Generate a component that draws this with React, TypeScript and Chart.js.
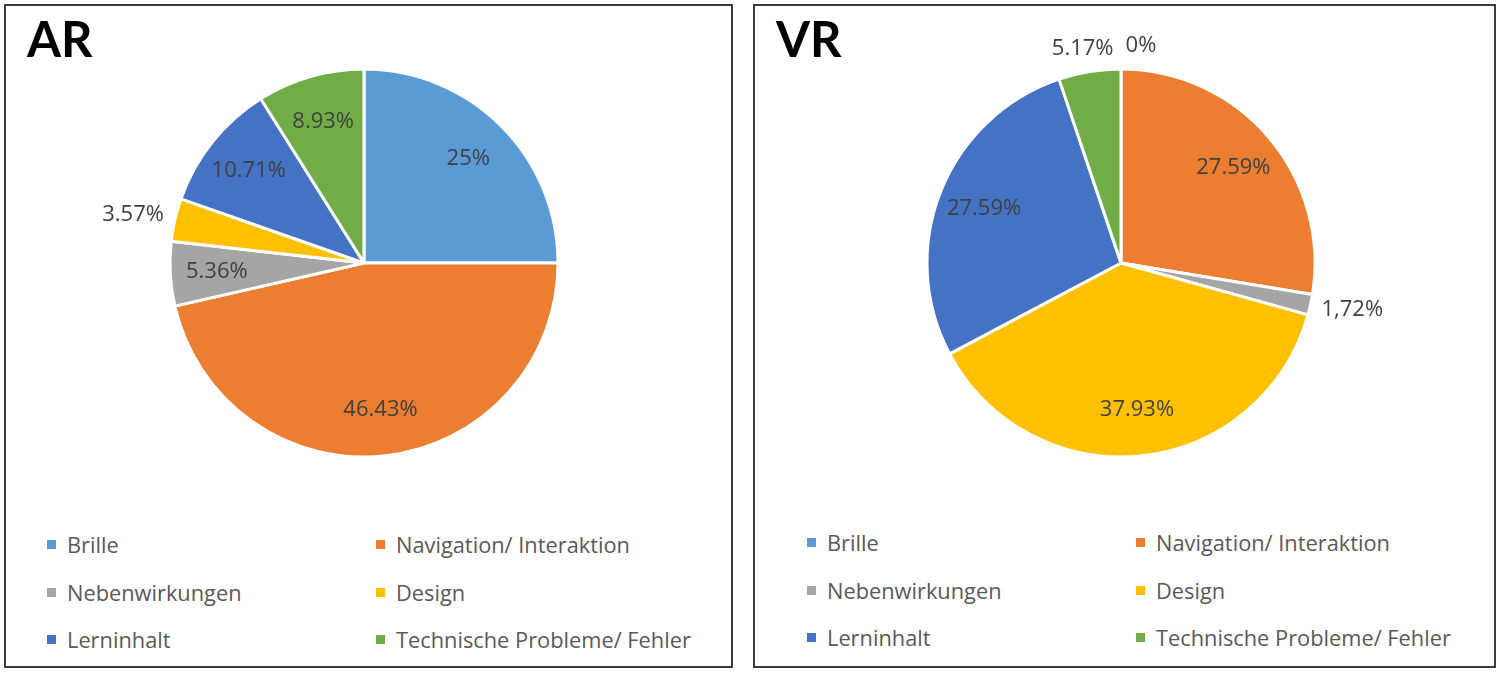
import { useEffect, useRef } from 'react';
import { Chart, registerables } from 'chart.js';

Chart.register(...registerables);

const categories = [
  'Brille',
  'Navigation/ Interaktion',
  'Nebenwirkungen',
  'Design',
  'Lerninhalt',
  'Technische Probleme/ Fehler',
];
const colors = ['#5B9BD5', '#ED7D31', '#A5A5A5', '#FFC000', '#4472C4', '#70AD47'];

const arValues = [25, 46.43, 5.36, 3.57, 10.71, 8.93];
const arTexts = ['25%', '46.43%', '5.36%', '3.57%', '10.71%', '8.93%'];

const vrValues = [0, 27.59, 1.72, 37.93, 27.59, 5.17];
const vrTexts = ['0%', '27.59%', '1,72%', '37.93%', '27.59%', '5.17%'];

// slices smaller than this get their label outside the pie
const OUTSIDE_BELOW = 5.2;
const LABEL_FONT = '22px "Open Sans"';

function labelPlugin(texts: string[]) {
  return {
    id: 'sliceLabels',
    afterDatasetsDraw(chart: any) {
      const { ctx } = chart;
      const meta = chart.getDatasetMeta(0);
      const values = chart.data.datasets[0].data as number[];
      ctx.save();
      ctx.font = LABEL_FONT;
      ctx.fillStyle = '#404040';
      ctx.textAlign = 'center';
      ctx.textBaseline = 'middle';
      const h = 22;
      const items: any[] = [];
      meta.data.forEach((el: any, i: number) => {
        const { x, y, startAngle, endAngle, outerRadius } = el.getProps(
          ['x', 'y', 'startAngle', 'endAngle', 'outerRadius'],
          true
        );
        const mid = (startAngle + endAngle) / 2;
        const w = ctx.measureText(texts[i]).width;
        let cx: number;
        let cy: number;
        const outside = values[i] < OUTSIDE_BELOW;
        if (!outside) {
          const r = outerRadius * 0.76;
          cx = x + Math.cos(mid) * r;
          cy = y + Math.sin(mid) * r;
        } else {
          const r = outerRadius + 12;
          cx = x + Math.cos(mid) * r + (Math.cos(mid) * w) / 2;
          cy = y + Math.sin(mid) * r + (Math.sin(mid) * h) / 2;
        }
        items.push({ i, cx, cy, w, outside, v: values[i] });
      });
      // simple overlap handling: larger slices keep their place
      const placed: any[] = [];
      items
        .slice()
        .sort((a, b) => b.v - a.v)
        .forEach((it) => {
          if (it.outside) {
            for (const b of placed) {
              const overlapX = Math.abs(it.cx - b.cx) < (it.w + b.w) / 2 + 4;
              const overlapY = Math.abs(it.cy - b.cy) < h;
              if (overlapX && overlapY) {
                if (it.cx >= b.cx) it.cx = b.cx + b.w / 2 + 12 + it.w / 2;
                else it.cx = b.cx - b.w / 2 - 12 - it.w / 2;
              }
            }
          }
          placed.push(it);
        });
      items.forEach((it) => ctx.fillText(texts[it.i], it.cx, it.cy));
      ctx.restore();
    },
  };
}

const CANVAS_H = 500;
const PIE_CY = 257;
const PIE_BOX = 391;

function PiePanel({
  title,
  values,
  texts,
  left,
  width,
  pieCx,
  legendLeft,
  legendTop,
}: {
  title: string;
  values: number[];
  texts: string[];
  left: number;
  width: number;
  pieCx: number;
  legendLeft: number;
  legendTop: number;
}) {
  const canvasRef = useRef<HTMLCanvasElement | null>(null);
  const chartRef = useRef<Chart | null>(null);
  const innerW = width - 4;

  useEffect(() => {
    const ctx = canvasRef.current?.getContext('2d');
    if (!ctx) return;
    if (chartRef.current) chartRef.current.destroy();

    chartRef.current = new Chart(ctx, {
      type: 'pie',
      data: {
        labels: categories,
        datasets: [
          {
            data: values,
            backgroundColor: colors,
            borderColor: '#ffffff',
            borderWidth: 3,
          },
        ],
      },
      options: {
        animation: false,
        responsive: true,
        maintainAspectRatio: false,
        layout: {
          padding: {
            left: pieCx - PIE_BOX / 2,
            right: innerW - pieCx - PIE_BOX / 2,
            top: PIE_CY - PIE_BOX / 2,
            bottom: CANVAS_H - PIE_CY - PIE_BOX / 2,
          },
        },
        plugins: {
          legend: { display: false },
          tooltip: { enabled: false },
        },
      },
      plugins: [labelPlugin(texts)],
    });

    return () => {
      if (chartRef.current) {
        chartRef.current.destroy();
        chartRef.current = null;
      }
    };
  }, [values, texts]);

  return (
    <div
      style={{
        position: 'absolute',
        left,
        top: 4,
        width,
        height: 664,
        boxSizing: 'border-box',
        border: '2px solid #3c3c3c',
        background: '#fff',
      }}
    >
      <div style={{ position: 'absolute', left: 0, top: 0, width: innerW, height: CANVAS_H }}>
        <canvas ref={canvasRef}></canvas>
      </div>
      <div
        style={{
          position: 'absolute',
          left: 21,
          top: 8,
          font: 'bold 49px Lato, sans-serif',
          lineHeight: 1,
          color: '#000',
        }}
      >
        {title}
      </div>
      <div
        style={{
          position: 'absolute',
          left: legendLeft,
          top: legendTop,
          display: 'grid',
          gridTemplateColumns: '329px 329px',
          font: '21.8px "Open Sans", sans-serif',
          color: '#595959',
        }}
      >
        {categories.map((c, i) => (
          <div key={c} style={{ display: 'flex', alignItems: 'center', height: 47.5, whiteSpace: 'nowrap' }}>
            <span
              style={{
                display: 'inline-block',
                width: 9,
                height: 9,
                marginRight: 11,
                background: colors[i],
              }}
            />
            {c}
          </div>
        ))}
      </div>
    </div>
  );
}

export default function App() {
  return (
    <div
      style={{
        position: 'absolute',
        left: 0,
        top: 0,
        width: 1500,
        height: 674,
        background: '#fff',
      }}
    >
      <PiePanel
        title="AR"
        values={arValues}
        texts={arTexts}
        left={4}
        width={729}
        pieCx={358}
        legendLeft={41}
        legendTop={515}
      />
      <PiePanel
        title="VR"
        values={vrValues}
        texts={vrTexts}
        left={753}
        width={743}
        pieCx={366}
        legendLeft={52}
        legendTop={513}
      />
    </div>
  );
}
